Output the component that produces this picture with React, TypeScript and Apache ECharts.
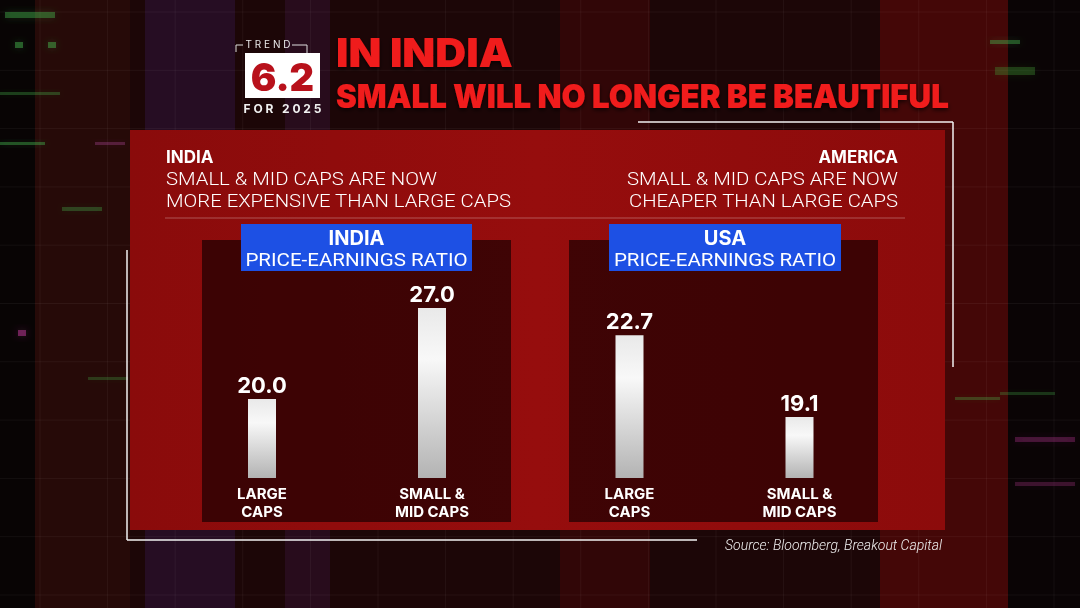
import React, { useEffect, useRef } from "react";
import * as echarts from "echarts";

const categories = ["LARGE\nCAPS", "SMALL &\nMID CAPS"];
const indiaPE = [20.0, 27.0];
const usaPE = [22.7, 19.1];
const panelTitles = ["INDIA", "USA"];
const panelSubtitle = "PRICE-EARNINGS RATIO";
const titleLine1 = "IN INDIA";
const titleLine2 = "SMALL WILL NO LONGER BE BEAUTIFUL";
const leftNote = ["INDIA", "SMALL & MID CAPS ARE NOW", "MORE EXPENSIVE THAN LARGE CAPS"];
const rightNote = ["AMERICA", "SMALL & MID CAPS ARE NOW", "CHEAPER THAN LARGE CAPS"];
const badgeTop = "TREND";
const badgeNumber = "6.2";
const badgeBottom = "FOR 2025";
const sourceText = "Source: Bloomberg, Breakout Capital";

const FONT = "Inter, Roboto, 'Liberation Sans', sans-serif";
const LIGHT = "Roboto, 'Liberation Sans', sans-serif";

export default function App() {
  const ref = useRef<HTMLDivElement>(null);
  useEffect(() => {
    if (!ref.current) return;
    const chart = echarts.init(ref.current, null, { renderer: "svg" });
    const barFill = new echarts.graphic.LinearGradient(0, 0, 0, 1, [
      { offset: 0, color: "#e9e9e9" },
      { offset: 0.3, color: "#f8f8f8" },
      { offset: 1, color: "#b3b3b3" },
    ]);
    const label = {
      show: true,
      position: "top",
      distance: 3,
      color: "#ffffff",
      fontFamily: FONT,
      fontWeight: "bold",
      fontSize: 22,
      formatter: (p: any) => Number(p.value).toFixed(1),
    };
    const xAxisBase = {
      type: "category",
      data: categories,
      axisLine: { show: false },
      axisTick: { show: false },
      axisLabel: {
        interval: 0,
        color: "#ffffff",
        fontFamily: FONT,
        fontWeight: "bold",
        fontSize: 15,
        lineHeight: 18,
        margin: 6,
      },
      splitLine: { show: false },
    };
    const yBase = { type: "value", show: false, splitLine: { show: false } };

    const txt = (x: number, y: number, text: string, style: any, extra: any = {}) => ({
      type: "text",
      x,
      y,
      style: { text, fill: "#ffffff", fontFamily: FONT, ...style },
      ...extra,
    });
    const line = (x1: number, y1: number, x2: number, y2: number, stroke: string, lineWidth = 1.5) => ({
      type: "line",
      shape: { x1, y1, x2, y2 },
      style: { stroke, lineWidth },
    });
    const glow = (x: number, y: number, w: number, h: number, color: string) => ({
      type: "rect",
      shape: { x, y, width: w, height: h },
      style: { fill: color, shadowBlur: 8, shadowColor: color },
    });

    const bgGrid: any[] = [];
    for (let k = 0; k < 16; k++) {
      const gx = 40 + 67.6 * k;
      bgGrid.push(line(gx, 0, gx, 608, "rgba(255,255,255,0.05)", 1));
    }
    for (let k = 0; k < 11; k++) {
      const gy = 12 + 58.3 * k;
      bgGrid.push(line(0, gy, 1080, gy, "rgba(255,255,255,0.05)", 1));
    }

    const noteStyle = { fontSize: 18.5, fontFamily: LIGHT, fontWeight: 300, verticalAlign: "middle" };

    const graphic: any[] = [
      // background
      { type: "rect", shape: { x: 0, y: 0, width: 1080, height: 608 }, style: { fill: "#1c0607" } },
      { type: "rect", shape: { x: 0, y: 0, width: 35, height: 608 }, style: { fill: "#080404" } },
      { type: "rect", shape: { x: 35, y: 0, width: 95, height: 608 }, style: { fill: "#260a08" } },
      { type: "rect", shape: { x: 145, y: 0, width: 90, height: 608 }, style: { fill: "rgba(50,22,70,0.45)" } },
      { type: "rect", shape: { x: 285, y: 0, width: 45, height: 608 }, style: { fill: "rgba(70,25,80,0.3)" } },
      { type: "rect", shape: { x: 560, y: 0, width: 90, height: 608 }, style: { fill: "rgba(90,10,10,0.35)" } },
      { type: "rect", shape: { x: 880, y: 0, width: 128, height: 608 }, style: { fill: "#440707" } },
      { type: "rect", shape: { x: 1008, y: 0, width: 72, height: 608 }, style: { fill: "#0a0405" } },
      ...bgGrid,
      glow(5, 12, 50, 6, "rgba(70,190,80,0.4)"),
      glow(15, 42, 8, 6, "rgba(70,190,80,0.45)"),
      glow(48, 42, 8, 6, "rgba(70,190,80,0.45)"),
      glow(0, 92, 60, 3, "rgba(70,190,80,0.3)"),
      glow(0, 142, 45, 3, "rgba(70,190,80,0.4)"),
      glow(95, 142, 30, 3, "rgba(190,80,170,0.3)"),
      glow(62, 207, 40, 4, "rgba(70,190,80,0.3)"),
      glow(18, 330, 8, 6, "rgba(200,60,160,0.5)"),
      glow(88, 377, 40, 3, "rgba(70,190,80,0.25)"),
      glow(990, 40, 30, 4, "rgba(70,190,80,0.4)"),
      glow(995, 67, 40, 8, "rgba(60,150,50,0.35)"),
      glow(955, 397, 45, 3, "rgba(70,190,80,0.3)"),
      glow(1000, 392, 55, 3, "rgba(70,190,80,0.25)"),
      glow(1015, 437, 60, 5, "rgba(200,60,160,0.3)"),
      glow(1015, 482, 60, 4, "rgba(200,60,160,0.25)"),
      // red panel
      {
        type: "rect",
        shape: { x: 130, y: 130, width: 815, height: 400 },
        style: {
          fill: new echarts.graphic.LinearGradient(0, 0, 1, 0, [
            { offset: 0, color: "#8a0b0b" },
            { offset: 0.5, color: "#960d0d" },
            { offset: 1, color: "#8c0b0b" },
          ]),
        },
      },
      // dark chart panels
      { type: "rect", shape: { x: 202, y: 240, width: 309, height: 282 }, style: { fill: "rgba(22,0,2,0.68)" } },
      { type: "rect", shape: { x: 569, y: 240, width: 309, height: 282 }, style: { fill: "rgba(22,0,2,0.68)" } },
      // blue title boxes
      { type: "rect", shape: { x: 241, y: 224, width: 231, height: 47 }, style: { fill: "#1d50e4" } },
      { type: "rect", shape: { x: 609, y: 224, width: 232, height: 47 }, style: { fill: "#1d50e4" } },
      txt(356.5, 238, panelTitles[0], { fontSize: 20, fontWeight: "bold", align: "center", verticalAlign: "middle" }),
      txt(356.5, 260, panelSubtitle, { fontSize: 19, fontFamily: LIGHT, align: "center", verticalAlign: "middle" }, { scaleX: 1.08 }),
      txt(725, 238, panelTitles[1], { fontSize: 20, fontWeight: "bold", align: "center", verticalAlign: "middle" }),
      txt(725, 260, panelSubtitle, { fontSize: 19, fontFamily: LIGHT, align: "center", verticalAlign: "middle" }, { scaleX: 1.08 }),
      // notes
      txt(166, 156.5, leftNote[0], { fontSize: 17, fontWeight: "bold", verticalAlign: "middle" }),
      txt(166, 178.5, leftNote[1], noteStyle, { scaleX: 1.097 }),
      txt(166, 201, leftNote[2], noteStyle, { scaleX: 1.097 }),
      txt(898, 156.5, rightNote[0], { fontSize: 17, fontWeight: "bold", align: "right", verticalAlign: "middle" }),
      txt(898, 178.5, rightNote[1], { ...noteStyle, align: "right" }, { scaleX: 1.097 }),
      txt(898, 201, rightNote[2], { ...noteStyle, align: "right" }, { scaleX: 1.097 }),
      line(165, 218, 905, 218, "rgba(255,255,255,0.3)", 1),
      // white frame lines
      line(638, 122, 953, 122, "#f2f2f2", 1.5),
      line(953, 122, 953, 367, "#f2f2f2", 1.5),
      line(127, 250, 127, 540, "#f2f2f2", 1.5),
      line(127, 540, 697, 540, "#f2f2f2", 1.5),
      // badge
      { type: "rect", shape: { x: 245, y: 53, width: 75, height: 45 }, style: { fill: "#ffffff" } },
      txt(282.5, 77, badgeNumber, { fontSize: 38, fontWeight: 900, fill: "#b8111b", align: "center", verticalAlign: "middle" }),
      txt(268, 44, badgeTop.split("").join(" "), { fontSize: 10, fill: "#e8e8e8", align: "center", verticalAlign: "middle" }),
      { type: "polyline", shape: { points: [[243, 45], [236, 45], [236, 52]] }, style: { stroke: "#dddddd", lineWidth: 1, fill: "none" } },
      { type: "polyline", shape: { points: [[292, 45], [307, 45], [307, 53]] }, style: { stroke: "#dddddd", lineWidth: 1, fill: "none" } },
      txt(282.5, 108, badgeBottom.split("").join(" "), { fontSize: 12, fontWeight: "bold", fill: "#f0f0f0", align: "center", verticalAlign: "middle" }),
      // titles
      txt(336, 53, titleLine1, {
        fontSize: 40, fontWeight: 900, fill: "#f01c1c", verticalAlign: "middle",
        textShadowColor: "rgba(0,0,0,0.7)", textShadowBlur: 4, textShadowOffsetY: 2,
      }, { scaleX: 1.07 }),
      txt(336, 96, titleLine2, {
        fontSize: 33, fontWeight: 900, fill: "#f01c1c", verticalAlign: "middle",
        textShadowColor: "rgba(0,0,0,0.7)", textShadowBlur: 4, textShadowOffsetY: 2,
      }, { scaleX: 0.947 }),
      // source
      txt(942, 545, sourceText, { fontSize: 14, fontStyle: "italic", fontFamily: LIGHT, fontWeight: 300, fill: "#f0f0f0", align: "right", verticalAlign: "middle" }),
    ];

    chart.setOption({
      animation: false,
      backgroundColor: "transparent",
      graphic,
      grid: [
        { left: 177, top: 300, width: 340, height: 178 },
        { left: 544.5, top: 300, width: 340, height: 178 },
      ],
      xAxis: [
        { ...xAxisBase, gridIndex: 0 },
        { ...xAxisBase, gridIndex: 1 },
      ],
      yAxis: [
        { ...yBase, gridIndex: 0, min: 13.92, max: 27.61 },
        { ...yBase, gridIndex: 1, min: 16.41, max: 24.26 },
      ],
      series: [
        {
          type: "bar",
          name: "India",
          xAxisIndex: 0,
          yAxisIndex: 0,
          data: indiaPE,
          barWidth: 28,
          itemStyle: { color: barFill },
          label,
        },
        {
          type: "bar",
          name: "USA",
          xAxisIndex: 1,
          yAxisIndex: 1,
          data: usaPE,
          barWidth: 28,
          itemStyle: { color: barFill },
          label,
        },
      ],
    });
    return () => chart.dispose();
  }, []);
  return <div ref={ref} style={{ position: "fixed", left: 0, top: 0, width: 1080, height: 608 }} />;
}
